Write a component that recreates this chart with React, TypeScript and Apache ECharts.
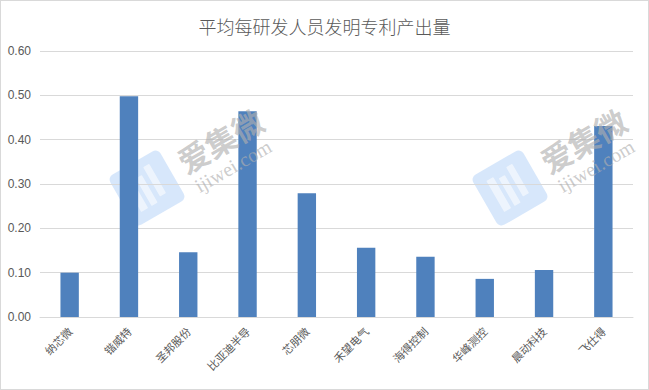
import React, { useEffect, useRef } from "react";
import * as echarts from "echarts";

const titleText = "平均每研发人员发明专利产出量";
const companies = [
  "纳芯微",
  "锴威特",
  "圣邦股份",
  "比亚迪半导",
  "芯朋微",
  "禾望电气",
  "海得控制",
  "华峰测控",
  "晨动科技",
  "飞仕得",
];
const patentsPerStaff = [0.1, 0.498, 0.146, 0.464, 0.279, 0.156, 0.136, 0.086, 0.106, 0.431];
const yTicks = { min: 0, max: 0.6, interval: 0.1 };

const CJK = '"Noto Sans CJK SC", "Microsoft YaHei", sans-serif';

// one "爱集微 ijiwei.com" mark: tilted logo tile plus brand text
function brandMark(cx: number, cy: number) {
  const rot = Math.PI / 6;
  const s = 58;
  const stripes = [
    { x: -17, y: -18, w: 8, h: 36 },
    { x: -5, y: -14, w: 7, h: 32 },
    { x: 7, y: -20, w: 7, h: 34 },
  ];
  return [
    {
      type: "group",
      x: cx,
      y: cy,
      rotation: rot,
      z: 100,
      silent: true,
      children: [
        {
          type: "rect",
          shape: { x: -s / 2, y: -s / 2, width: s, height: s, r: 6 },
          style: { fill: "rgba(110,170,240,0.28)" },
        },
        ...stripes.map((b) => ({
          type: "rect",
          shape: { x: b.x, y: b.y, width: b.w, height: b.h, r: 1 },
          style: { fill: "rgba(255,255,255,0.55)" },
        })),
      ],
    },
    {
      type: "text",
      x: cx + 73,
      y: cy - 48,
      rotation: rot,
      z: 100,
      silent: true,
      style: {
        text: "爱集微",
        font: `bold 31px ${CJK}`,
        fill: "rgba(175,175,175,0.65)",
        textAlign: "center",
        textVerticalAlign: "middle",
      },
    },
    {
      type: "text",
      x: cx + 86,
      y: cy - 22,
      rotation: rot,
      z: 100,
      silent: true,
      style: {
        text: "ijiwei.com",
        font: '20px "Liberation Serif", "DejaVu Serif", serif',
        fill: "rgba(175,175,175,0.65)",
        textAlign: "center",
        textVerticalAlign: "middle",
      },
    },
  ];
}

export default function App() {
  const ref = useRef<HTMLDivElement>(null);

  useEffect(() => {
    if (!ref.current) return;
    const chart = echarts.init(ref.current, undefined, { renderer: "svg" });
    chart.setOption({
      animation: false,
      backgroundColor: "#ffffff",
      title: {
        text: titleText,
        left: "center",
        top: 16,
        padding: 0,
        textStyle: {
          fontFamily: CJK,
          fontSize: 18,
          fontWeight: 300,
          color: "#595959",
        },
      },
      grid: { left: 39, right: 15, top: 50, bottom: 72, containLabel: false },
      xAxis: {
        type: "category",
        data: companies,
        axisLine: { show: true, lineStyle: { color: "#d9d9d9", width: 1 } },
        axisTick: { show: false },
        axisLabel: {
          rotate: 45,
          interval: 0,
          margin: 12,
          fontFamily: CJK,
          fontSize: 11,
          color: "#595959",
        },
      },
      yAxis: {
        type: "value",
        min: yTicks.min,
        max: yTicks.max,
        interval: yTicks.interval,
        axisLine: { show: false },
        axisTick: { show: false },
        splitLine: { lineStyle: { color: "#d9d9d9", width: 1 } },
        axisLabel: {
          margin: 9,
          fontFamily: '"Liberation Sans", Arial, sans-serif',
          fontSize: 12,
          color: "#595959",
          formatter: (v: number) => v.toFixed(2),
        },
      },
      series: [
        {
          type: "bar",
          data: patentsPerStaff,
          barWidth: "31%",
          itemStyle: { color: "#4f81bd" },
        },
      ],
      graphic: [...brandMark(146, 187), ...brandMark(509, 187)],
    });
    return () => chart.dispose();
  }, []);

  return (
    <div
      style={{
        position: "fixed",
        left: 0,
        top: 0,
        width: 649,
        height: 390,
        boxSizing: "border-box",
        border: "1px solid #d9d9d9",
        background: "#fff",
      }}
    >
      <div ref={ref} style={{ width: 647, height: 388 }} />
    </div>
  );
}
